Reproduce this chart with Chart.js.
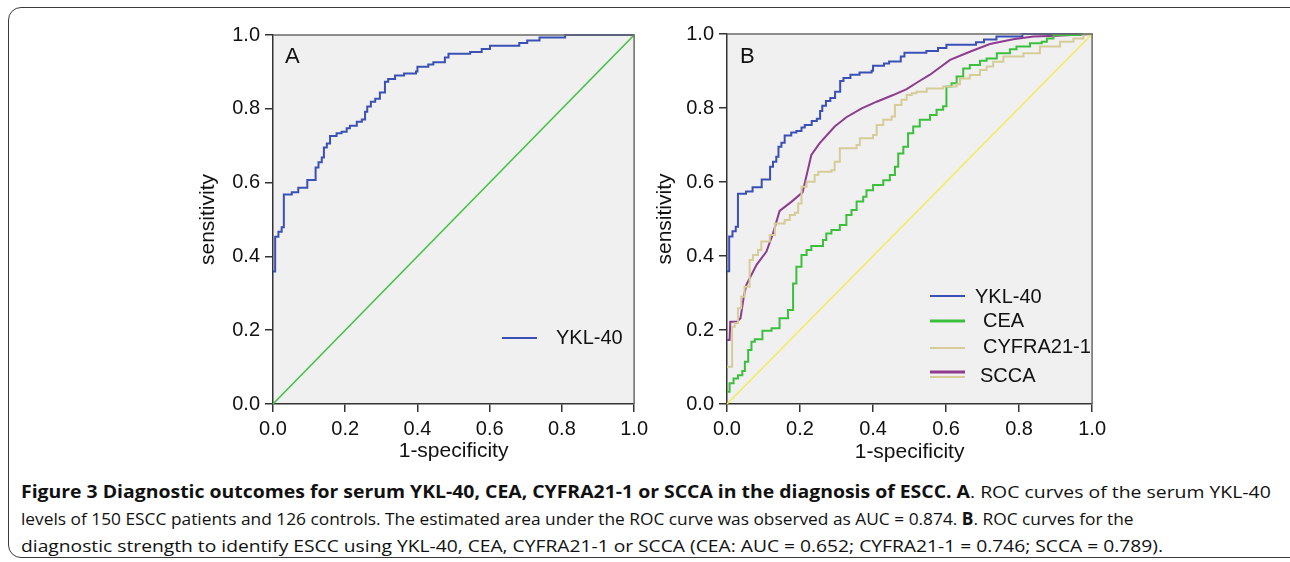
<!DOCTYPE html>
<html>
<head>
<meta charset="utf-8">
<script src="https://cdn.jsdelivr.net/npm/chart.js@4.4.1/dist/chart.umd.min.js"></script>
<style>
  body { margin: 0; background: #fff; width: 1290px; height: 562px; overflow: hidden; position: relative; }
  .frame { position: absolute; left: 8px; top: 7px; width: 1300px; height: 551px; border: 1.5px solid #3a3a3a; border-radius: 13px; box-sizing: border-box; }
  #boxA { position: absolute; left: 180px; top: 18px; width: 473px; height: 452px; }
  #boxB { position: absolute; left: 650px; top: 17px; width: 461px; height: 453px; }
  .cap { position: absolute; left: 21px; font-family: 'Open Sans', sans-serif; font-size: 17px; line-height: 20px; color: #111; white-space: nowrap; transform-origin: 0 50%; }
  .cap b { font-weight: 700; }
</style>
</head>
<body>
<div class="frame"></div>
<div id="boxA"><canvas id="chartA"></canvas></div>
<div id="boxB"><canvas id="chartB"></canvas></div>
<div class="cap" style="top:482px" data-w="1250"><b>Figure 3 Diagnostic outcomes for serum YKL-40, CEA, CYFRA21-1 or SCCA in the diagnosis of ESCC. A</b>. ROC curves of the serum YKL-40</div>
<div class="cap" style="top:509px" data-w="1113">levels of 150 ESCC patients and 126 controls. The estimated area under the ROC curve was observed as AUC = 0.874. <b>B</b>. ROC curves for the</div>
<div class="cap" style="top:536px" data-w="1142">diagnostic strength to identify ESCC using YKL-40, CEA, CYFRA21-1 or SCCA (CEA: AUC = 0.652; CYFRA21-1 = 0.746; SCCA = 0.789).</div>
<script>
// 데이터
const tickValues = [0, 0.2, 0.4, 0.6, 0.8, 1.0];
const seriesNames = ['YKL-40', 'CEA', 'CYFRA21-1', 'SCCA'];

const yklX = [0, 0.006, 0.015, 0.024, 0.030, 0.052, 0.070, 0.095, 0.118, 0.126, 0.135, 0.141, 0.149, 0.158, 0.176, 0.190,
  0.204, 0.213, 0.232, 0.246, 0.255, 0.261, 0.271, 0.283, 0.296, 0.310, 0.319, 0.338, 0.363, 0.396, 0.400, 0.430,
  0.444, 0.476, 0.486, 0.546, 0.578, 0.601, 0.682, 0.704, 0.738, 0.809, 1.0];
const yklY = [0.359, 0.453, 0.467, 0.479, 0.568, 0.574, 0.586, 0.607, 0.641, 0.655, 0.668, 0.695, 0.706, 0.726, 0.734, 0.738,
  0.747, 0.754, 0.765, 0.771, 0.792, 0.806, 0.819, 0.827, 0.844, 0.873, 0.881, 0.890, 0.896, 0.901, 0.914, 0.920,
  0.926, 0.939, 0.949, 0.954, 0.962, 0.971, 0.978, 0.985, 0.993, 1.0, 1.0];

const ceaX = [0, 0.007, 0.018, 0.030, 0.042, 0.049, 0.058, 0.067, 0.076, 0.097, 0.122, 0.144, 0.167, 0.181, 0.190, 0.204,
  0.218, 0.231, 0.263, 0.272, 0.286, 0.309, 0.327, 0.341, 0.355, 0.373, 0.382, 0.400, 0.428, 0.446, 0.460, 0.469,
  0.483, 0.496, 0.510, 0.528, 0.556, 0.574, 0.592, 0.601, 0.615, 0.629, 0.647, 0.665, 0.693, 0.711, 0.739, 0.775,
  0.793, 0.830, 0.862, 0.876, 0.894, 0.967, 1.0];
const ceaY = [0.033, 0.056, 0.069, 0.078, 0.089, 0.114, 0.146, 0.168, 0.175, 0.198, 0.205, 0.232, 0.254, 0.326, 0.371, 0.403,
  0.416, 0.427, 0.443, 0.461, 0.470, 0.484, 0.511, 0.524, 0.547, 0.560, 0.578, 0.592, 0.605, 0.619, 0.641, 0.677,
  0.695, 0.732, 0.750, 0.768, 0.781, 0.795, 0.805, 0.858, 0.867, 0.885, 0.907, 0.916, 0.928, 0.934, 0.948, 0.959,
  0.966, 0.975, 0.979, 0.988, 0.997, 1.0, 1.0];

const cyfraX = [0, 0.014, 0.021, 0.030, 0.039, 0.048, 0.062, 0.071, 0.085, 0.094, 0.117, 0.131, 0.158, 0.172, 0.186, 0.195,
  0.204, 0.218, 0.240, 0.250, 0.286, 0.295, 0.309, 0.355, 0.364, 0.400, 0.410, 0.428, 0.451, 0.460, 0.478, 0.492,
  0.506, 0.519, 0.547, 0.592, 0.629, 0.638, 0.665, 0.693, 0.711, 0.729, 0.757, 0.812, 0.857, 0.912, 0.949, 0.976, 1.0];
const cyfraY = [0.101, 0.209, 0.218, 0.259, 0.290, 0.317, 0.389, 0.403, 0.416, 0.439, 0.457, 0.488, 0.497, 0.511, 0.517, 0.542,
  0.587, 0.601, 0.619, 0.628, 0.632, 0.655, 0.691, 0.700, 0.718, 0.727, 0.754, 0.768, 0.777, 0.808, 0.822, 0.835,
  0.840, 0.844, 0.853, 0.858, 0.864, 0.880, 0.889, 0.903, 0.912, 0.925, 0.939, 0.948, 0.966, 0.979, 0.988, 1.0, 1.0];

const sccaX = [0, 0.007, 0.009, 0.027, 0.037, 0.046, 0.053, 0.062, 0.081, 0.108, 0.126, 0.144, 0.177, 0.207, 0.231, 0.254,
  0.295, 0.327, 0.369, 0.410, 0.455, 0.492, 0.524, 0.556, 0.611, 0.665, 0.720, 0.784, 0.839, 0.903, 1.0];
const sccaY = [0.173, 0.173, 0.222, 0.222, 0.232, 0.290, 0.322, 0.340, 0.376, 0.412, 0.461, 0.522, 0.547, 0.572, 0.673, 0.705,
  0.750, 0.775, 0.799, 0.817, 0.835, 0.851, 0.871, 0.890, 0.930, 0.952, 0.973, 0.986, 0.993, 0.995, 1.0];

const refX = [0, 1];
const refY = [0, 1];

const FONT = "'Liberation Sans', Arial, sans-serif";

/*
 * x, y 배열을 Chart.js 점 목록으로 변환
 */
const pts = function (xs, ys) {
    return xs.map((x, i) => ({ x: x, y: ys[i] }));
};

/*
 * 플롯 영역 배경, 테두리, 패널 글자, 범례 그리기
 */
const panelDeco = {
    id: 'panelDeco',
    beforeDraw(chart) {
        const a = chart.chartArea, ctx = chart.ctx;
        ctx.save();
        ctx.fillStyle = '#f0f0f0';
        ctx.fillRect(a.left, a.top, a.right - a.left, a.bottom - a.top);
        ctx.restore();
    },
    afterDraw(chart, args, opts) {
        const a = chart.chartArea, ctx = chart.ctx;
        ctx.save();
        ctx.strokeStyle = '#6a6a6a';
        ctx.lineWidth = 1.5;
        ctx.beginPath();
        ctx.moveTo(a.left, a.top);
        ctx.lineTo(a.right, a.top);
        ctx.lineTo(a.right, a.bottom);
        ctx.stroke();

        ctx.fillStyle = '#111';
        ctx.font = '22px ' + FONT;
        ctx.textBaseline = 'middle';
        ctx.fillText(opts.letter, opts.letterX, opts.letterY);

        ctx.font = '20px ' + FONT;
        opts.items.forEach(it => {
            const ds = chart.data.datasets[it.ds];
            ctx.strokeStyle = ds.borderColor;
            ctx.lineWidth = it.w || 2;
            ctx.beginPath();
            ctx.moveTo(opts.lineX1, it.lineY);
            ctx.lineTo(opts.lineX2, it.lineY);
            ctx.stroke();
            if (it.ds2 !== undefined) {
                ctx.strokeStyle = chart.data.datasets[it.ds2].borderColor;
                ctx.lineWidth = 2;
                ctx.beginPath();
                ctx.moveTo(opts.lineX1, it.lineY2);
                ctx.lineTo(opts.lineX2, it.lineY2);
                ctx.stroke();
            }
            ctx.fillStyle = '#111';
            ctx.fillText(ds.label, it.textX, it.textY);
        });
        ctx.restore();
    }
};

/*
 * 축 설정 생성
 */
const axis = function (title, titlePad, size, isY) {
    return {
        type: 'linear', min: 0, max: 1,
        afterBuildTicks: s => { s.ticks = tickValues.map(v => ({ value: v })); },
        afterFit: s => { if (isY) { s.width = size; } else { s.height = size; } },
        grid: { drawOnChartArea: false, drawTicks: true, tickLength: 8, color: '#333', lineWidth: 1.5 },
        border: { display: true, color: '#333', width: 1.5 },
        ticks: { color: '#111', font: { family: FONT, size: 20 }, padding: 5, maxRotation: 0, autoSkip: false,
            callback: v => v.toFixed(1) },
        title: { display: true, text: title, color: '#111', font: { family: FONT, size: 21 },
            padding: { top: titlePad, bottom: 0 } }
    };
};

const line = function (label, xs, ys, color, width, stepped) {
    return { label: label, data: pts(xs, ys), borderColor: color, borderWidth: width,
        pointRadius: 0, stepped: stepped, tension: 0, fill: false, clip: false };
};

/*
 * 패널 차트 생성
 */
const makePanel = function (id, datasets, geo, deco) {
    return new Chart(document.getElementById(id).getContext('2d'), {
        type: 'line',
        data: { datasets: datasets },
        options: {
            responsive: true,
            maintainAspectRatio: false,
            animation: false,
            parsing: false,
            layout: { padding: { left: 0, right: geo.padR, top: geo.padT, bottom: geo.padB } },
            scales: {
                x: axis('1-specificity', 0, geo.xH, false),
                y: axis('sensitivity', geo.yTitlePad, geo.yW, true)
            },
            plugins: { legend: { display: false }, tooltip: { enabled: false }, panelDeco: deco }
        },
        plugins: [panelDeco]
    });
};

document.addEventListener('DOMContentLoaded', function () {
    makePanel('chartA', [
        line('ref', refX, refY, '#3fc23f', 1.5, false),
        line(seriesNames[0], yklX, yklY, '#3a50b5', 2, 'before')
    ], { padR: 13, padT: 13, padB: 6, xH: 60, yW: 93, yTitlePad: 16 }, {
        letter: 'A', letterX: 105, letterY: 39,
        lineX1: 322, lineX2: 357,
        items: [{ ds: 1, lineY: 320, textX: 376, textY: 320 }]
    });

    makePanel('chartB', [
        line('ref', refX, refY, '#f4ec58', 1.5, false),
        line(seriesNames[2], cyfraX, cyfraY, '#d6cc98', 2, 'before'),
        line(seriesNames[1], ceaX, ceaY, '#3cbf3c', 2, 'before'),
        line(seriesNames[3], sccaX, sccaY, '#8e3b90', 2, false),
        line(seriesNames[0], yklX, yklY, '#3a50b5', 2, 'before')
    ], { padR: 14, padT: 11, padB: 5, xH: 61, yW: 77, yTitlePad: 3 }, {
        letter: 'B', letterX: 90, letterY: 40,
        lineX1: 280, lineX2: 315,
        items: [
            { ds: 4, lineY: 279, textX: 325, textY: 280 },
            { ds: 2, lineY: 304, textX: 333, textY: 304, w: 3 },
            { ds: 1, lineY: 331, textX: 333, textY: 330 },
            { ds: 3, lineY: 355, textX: 330, textY: 359, w: 3, ds2: 1, lineY2: 360 }
        ]
    });

    // 캡션 줄 너비 맞추기
    document.querySelectorAll('.cap').forEach(el => {
        const w = parseFloat(el.dataset.w);
        el.style.transform = 'scaleX(' + (w / el.offsetWidth) + ')';
    });
});
</script>
</body>
</html>
